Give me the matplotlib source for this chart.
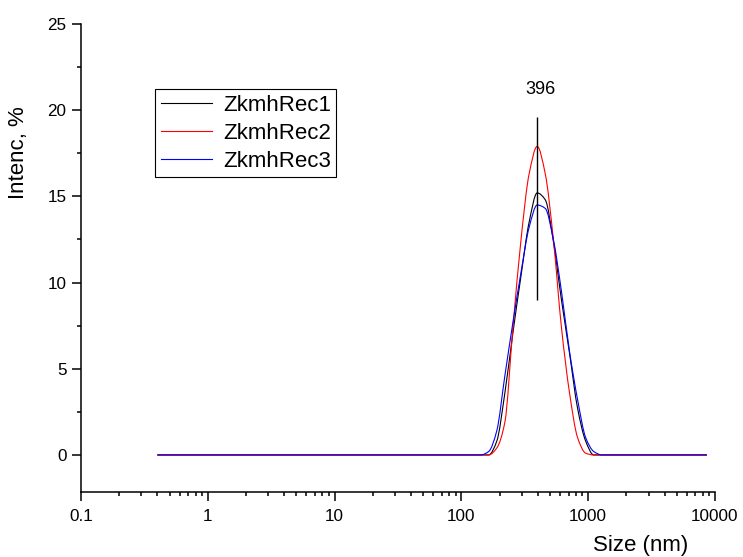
import numpy as np
import matplotlib
matplotlib.use('Agg')
import matplotlib.pyplot as plt
from matplotlib.path import Path
from matplotlib.patches import PathPatch
from matplotlib.lines import Line2D
from matplotlib.ticker import MultipleLocator, LogLocator, NullFormatter

plt.rcParams['font.family'] = ['Liberation Sans', 'DejaVu Sans']

# size bins (nm) of the distribution, split into the empty tails and the peak region
low_sizes = [0.4, 0.4632, 0.5365, 0.6213, 0.7195, 0.8332, 0.9649, 1.117, 1.294, 1.499,
             1.736, 2.01, 2.328, 2.696, 3.122, 3.615, 4.187, 4.849, 5.615, 6.503,
             7.531, 8.721, 10.1, 11.7, 13.54, 15.69, 18.17, 21.04, 24.36, 28.21,
             32.67, 37.84, 43.82, 50.75, 58.77, 68.06, 78.82, 91.28, 105.7, 122.4]
peak_sizes = [141.8, 164.2, 190.1, 220.2, 255.0, 295.3, 342.0, 396.1,
              458.7, 531.2, 615.1, 712.4, 825.0, 955.4, 1106]
high_sizes = [1281, 1484, 1718, 1990, 2305, 2669, 3091, 3580, 4145, 4801,
              5560, 6439, 7456, 8635]

# intensity (%) over the peak bins
rec1 = [0.0, 0.0, 0.8, 3.6, 7.1, 10.4, 13.5, 15.2, 14.8, 12.4, 9.0, 5.9, 2.7, 0.8, 0.0]
rec2 = [0.0, 0.0, 0.4, 1.9, 7.4, 12.5, 16.3, 17.9, 16.3, 12.5, 7.4, 3.6, 1.0, 0.1, 0.0]
rec3 = [0.0, 0.2, 1.4, 4.6, 7.7, 10.6, 13.2, 14.5, 14.3, 12.5, 9.5, 6.0, 3.2, 1.0, 0.2]

labels = ['ZkmhRec1', 'ZkmhRec2', 'ZkmhRec3']
colors = ['black', '#ff0000', '#0000ff']

peak_pos = 396
marker_lo, marker_hi = 9.0, 19.6

size = np.array(low_sizes + peak_sizes + high_sizes)


def full_curve(peak_vals):
    # outside the peak region the intensity is zero
    return np.concatenate([np.zeros(len(low_sizes)), peak_vals, np.zeros(len(high_sizes))])


def smooth_path(x, y):
    # monotone cubic (pchip-style) connection of the points, built in log10(x)
    u = np.log10(x)
    h = np.diff(u)
    d = np.diff(y) / h
    m = np.zeros_like(y)
    for k in range(1, len(y) - 1):
        if d[k - 1] * d[k] > 0:
            m[k] = 2.0 / (1.0 / d[k - 1] + 1.0 / d[k])
    verts = [(x[0], y[0])]
    codes = [Path.MOVETO]
    for k in range(len(y) - 1):
        c1 = (10 ** (u[k] + h[k] / 3), y[k] + m[k] * h[k] / 3)
        c2 = (10 ** (u[k + 1] - h[k] / 3), y[k + 1] - m[k + 1] * h[k] / 3)
        verts += [c1, c2, (x[k + 1], y[k + 1])]
        codes += [Path.CURVE4] * 3
    return Path(verts, codes)


fig = plt.figure(figsize=(7.43, 5.57), dpi=100)
ax = fig.add_axes([81 / 743, 1 - 492 / 557, (715 - 81) / 743, (492 - 24) / 557])

ax.set_xscale('log')
ax.set_xlim(0.1, 10000)
ax.set_ylim(-2.15, 25)

handles = []
for vals, col, lab in zip([rec1, rec2, rec3], colors, labels):
    ax.add_patch(PathPatch(smooth_path(size, full_curve(vals)), facecolor='none',
                           edgecolor=col, lw=0.8))
    handles.append(Line2D([], [], color=col, lw=0.8, label=lab))

ax.vlines(peak_pos, marker_lo, marker_hi, color='black', lw=1.0)
ax.annotate(str(peak_pos), xy=(peak_pos, 21.2), xytext=(2.5, 0), textcoords='offset points',
            ha='center', va='center', fontsize=13)

ax.set_xticks([0.1, 1, 10, 100, 1000, 10000])
ax.set_xticklabels(['0.1', '1', '10', '100', '1000', '10000'])
ax.xaxis.set_minor_locator(LogLocator(base=10, subs=np.arange(2, 10)))
ax.xaxis.set_minor_formatter(NullFormatter())
ax.set_yticks([0, 5, 10, 15, 20, 25])
ax.yaxis.set_minor_locator(MultipleLocator(2.5))

ax.spines['top'].set_visible(False)
ax.spines['right'].set_visible(False)
for s in ['left', 'bottom']:
    ax.spines[s].set_linewidth(1.1)
ax.tick_params(which='major', direction='out', length=6.5, width=1.1, labelsize=12.3, pad=4)
ax.tick_params(axis='x', which='major', pad=5.5)
ax.tick_params(which='minor', direction='out', length=3, width=1.1)

fig.text(19 / 743, 1 - 153 / 557, 'Intenc, %', fontsize=16, rotation=90,
         ha='center', va='center')
fig.text(641 / 743, 1 - 546 / 557, 'Size (nm)', fontsize=16, ha='center', va='center')

leg = ax.legend(handles=handles, loc='upper left', bbox_to_anchor=(155 / 743, 1 - 89 / 557),
                bbox_transform=fig.transFigure, fontsize=16, fancybox=False,
                edgecolor='black', framealpha=1, borderaxespad=0, borderpad=0.25,
                handlelength=2.3, handletextpad=0.5, labelspacing=0.32)
leg.get_frame().set_linewidth(0.8)

fig.savefig('out.png', dpi=100)
